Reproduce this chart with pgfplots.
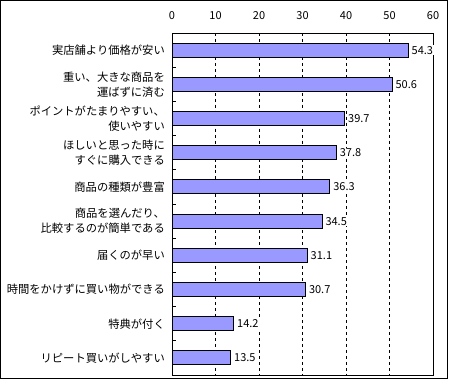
\documentclass[border=0pt]{standalone}
\usepackage{fontspec}
\setmainfont{Noto Sans CJK JP}
\usepackage{pgfplots}
\pgfplotsset{compat=1.18}
\definecolor{barfill}{HTML}{9999FF}
\begin{document}
\begin{tikzpicture}[x=1bp,y=1bp]
\useasboundingbox (0,0) rectangle (450,381);
\draw[line width=1bp] (0.5,2.5) rectangle (447.5,380.5);
\begin{axis}[
 at={(172bp,6bp)}, anchor=south west,
 scale only axis, width=261bp, height=342bp,
 xbar, bar width=14bp,
 xmin=0, xmax=60, xtick={0,10,...,60},
 xtick pos=upper, xticklabel pos=upper,
 ymin=-0.5, ymax=9.5, y dir=reverse,
 ytick={0,...,9},
 yticklabels={{実店舗より価格が安い},{重い、大きな商品を\\運ばずに済む},{ポイントがたまりやすい、\\使いやすい},{ほしいと思った時に\\すぐに購入できる},{商品の種類が豊富},{商品を選んだり、\\比較するのが簡単である},{届くのが早い},{時間をかけずに買い物ができる},{特典が付く},{リピート買いがしやすい}},
 ytick pos=left,
 major tick length=0pt,
 minor ytick={0.5,1.5,...,8.5}, minor tick length=4bp, tick align=inside,
 minor tick style={black, line width=0.8bp},
 axis line style={line width=0.9bp},
 xmajorgrids, major grid style={dashed, black, line width=0.8bp},
 /pgf/number format/assume math mode=true,
 xticklabel style={font=\fontsize{11bp}{15bp}\selectfont, inner sep=0pt, yshift=13bp},
 yticklabel style={font=\fontsize{11.3bp}{15bp}\selectfont, align=right, inner sep=0pt, xshift=-7bp},
 point meta=x,
 nodes near coords={\pgfmathprintnumber[fixed,fixed zerofill,precision=1]{\pgfplotspointmeta}},
 nodes near coords style={font=\fontsize{11bp}{13bp}\selectfont, anchor=west, fill=white, inner sep=1bp, xshift=2bp},
]
\addplot[fill=barfill, draw=black, line width=0.9bp] coordinates {
(54.3,0) (50.6,1) (39.7,2) (37.8,3) (36.3,4) (34.5,5) (31.1,6) (30.7,7) (14.2,8) (13.5,9)};
\end{axis}
\end{tikzpicture}
\end{document}
